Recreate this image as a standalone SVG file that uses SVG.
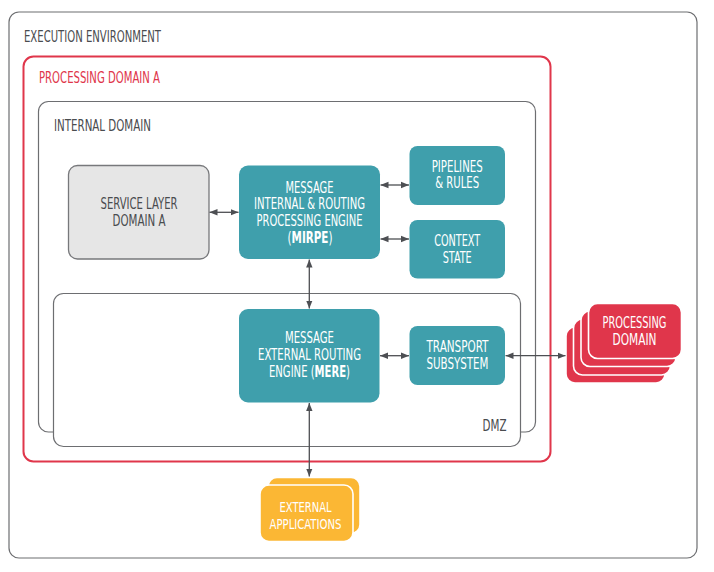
<svg xmlns="http://www.w3.org/2000/svg" width="714" height="572" viewBox="0 0 714 572">
<defs>
<style>
text{font-family:"Liberation Sans Narrow","DejaVu Sans Condensed","Liberation Sans",sans-serif;font-size:15px}
.lbl{fill:#4a4c4f}
.red{fill:#e0364b}
.w{fill:#ffffff;text-anchor:middle}
.d{fill:#4a4c4f;text-anchor:middle}
.b{font-weight:bold}
.sm{font-size:14px}
.frame{fill:#ffffff;stroke:#6d6e71;stroke-width:1.2}
.teal{fill:#3f9fac}
.conn{stroke:#4d4f53;stroke-width:1.3;fill:none;marker-start:url(#ah);marker-end:url(#ah)}
.pd{fill:#e0364b;stroke:#ffffff;stroke-width:1.6}
.ea{fill:#fbb734;stroke:#ffffff;stroke-width:1.6}
</style>
<marker id="ah" viewBox="0 0 8 8" refX="8" refY="4" markerWidth="8" markerHeight="8" markerUnits="userSpaceOnUse" orient="auto-start-reverse">
<path d="M0,0.8 L8,4 L0,7.2 Z" fill="#4d4f53"/>
</marker>
</defs>

<g id="execution-environment">
<rect class="frame" x="9" y="12" width="688" height="546" rx="10"/>
<text class="lbl" x="24" y="41.5" textLength="137" lengthAdjust="spacingAndGlyphs">EXECUTION ENVIRONMENT</text>
</g>

<g id="processing-domain-a">
<rect x="23.5" y="56.5" width="527" height="405" rx="10" fill="#ffffff" stroke="#e0364b" stroke-width="2"/>
<text class="red" x="39" y="82.5" textLength="121" lengthAdjust="spacingAndGlyphs">PROCESSING DOMAIN A</text>
</g>

<g id="internal-domain">
<rect class="frame" x="38.5" y="101.5" width="497" height="330.5" rx="10"/>
<text class="lbl" x="54" y="130.5" textLength="97" lengthAdjust="spacingAndGlyphs">INTERNAL DOMAIN</text>
</g>

<g id="dmz">
<rect class="frame" x="53.5" y="293.5" width="467" height="153" rx="10"/>
<text class="lbl" x="482.5" y="431" textLength="24" lengthAdjust="spacingAndGlyphs">DMZ</text>
</g>

<g id="service-layer">
<rect x="68.5" y="165.5" width="140.5" height="93.5" rx="9" fill="#e6e6e6" stroke="#77787b" stroke-width="1.3"/>
<text class="d" x="139" y="209" textLength="77" lengthAdjust="spacingAndGlyphs">SERVICE LAYER</text>
<text class="d" x="139" y="226" textLength="53" lengthAdjust="spacingAndGlyphs">DOMAIN A</text>
</g>

<g id="mirpe">
<rect class="teal" x="239" y="165.5" width="141" height="93.5" rx="9"/>
<text class="w" x="309.5" y="192.5" textLength="48" lengthAdjust="spacingAndGlyphs">MESSAGE</text>
<text class="w" x="309.5" y="209.3" textLength="111" lengthAdjust="spacingAndGlyphs">INTERNAL &amp; ROUTING</text>
<text class="w" x="309.5" y="226" textLength="106" lengthAdjust="spacingAndGlyphs">PROCESSING ENGINE</text>
<text class="w" transform="translate(310 243) scale(0.77 1)">(<tspan class="b">MIRPE</tspan>)</text>
</g>

<g id="pipelines-rules">
<rect class="teal" x="409.5" y="146" width="95.5" height="59" rx="8"/>
<text class="w" x="457.2" y="171.7" textLength="51" lengthAdjust="spacingAndGlyphs">PIPELINES</text>
<text class="w" x="457.2" y="188" textLength="44" lengthAdjust="spacingAndGlyphs">&amp; RULES</text>
</g>

<g id="context-state">
<rect class="teal" x="409.5" y="220" width="95.5" height="58.5" rx="8"/>
<text class="w" x="457.2" y="246" textLength="46" lengthAdjust="spacingAndGlyphs">CONTEXT</text>
<text class="w" x="457.2" y="262.7" textLength="29" lengthAdjust="spacingAndGlyphs">STATE</text>
</g>

<g id="mere">
<rect class="teal" x="239" y="309" width="140.5" height="93.5" rx="9"/>
<text class="w" x="309.5" y="343.3" textLength="49" lengthAdjust="spacingAndGlyphs">MESSAGE</text>
<text class="w" x="309.5" y="360" textLength="103" lengthAdjust="spacingAndGlyphs">EXTERNAL ROUTING</text>
<text class="w" transform="translate(309.5 377.3) scale(0.745 1)">ENGINE (<tspan class="b">MERE</tspan>)</text>
</g>

<g id="transport-subsystem">
<rect class="teal" x="409.5" y="326" width="95.5" height="59" rx="8"/>
<text class="w" x="457.5" y="352.3" textLength="62" lengthAdjust="spacingAndGlyphs">TRANSPORT</text>
<text class="w" x="457.5" y="369" textLength="62" lengthAdjust="spacingAndGlyphs">SUBSYSTEM</text>
</g>

<g id="processing-domain">
<rect class="pd" x="566" y="327" width="99" height="56" rx="9"/>
<rect class="pd" x="573.5" y="319" width="97" height="56" rx="9"/>
<rect class="pd" x="581" y="311" width="95" height="55.5" rx="9"/>
<rect class="pd" x="588.5" y="303.5" width="93" height="55" rx="9"/>
<text class="w" x="634.5" y="328.3" textLength="64" lengthAdjust="spacingAndGlyphs">PROCESSING</text>
<text class="w" x="634.5" y="345" textLength="44" lengthAdjust="spacingAndGlyphs">DOMAIN</text>
</g>

<g id="external-applications">
<rect class="ea" x="268" y="477.5" width="92" height="56" rx="9"/>
<rect class="ea" x="260" y="485" width="93" height="56.5" rx="9"/>
<text class="w sm" x="305.5" y="512.3" textLength="52" lengthAdjust="spacingAndGlyphs">EXTERNAL</text>
<text class="w sm" x="305.5" y="529" textLength="72" lengthAdjust="spacingAndGlyphs">APPLICATIONS</text>
</g>

<g id="connectors">
<line class="conn" x1="209.5" y1="212.3" x2="238.5" y2="212.3"/>
<line class="conn" x1="380.5" y1="185" x2="409" y2="185"/>
<line class="conn" x1="380.5" y1="239" x2="409" y2="239"/>
<line class="conn" x1="309.3" y1="259.5" x2="309.3" y2="308.5"/>
<line class="conn" x1="380" y1="355.7" x2="409" y2="355.7"/>
<line class="conn" x1="505.5" y1="355.7" x2="565.5" y2="355.7"/>
<line class="conn" x1="309.3" y1="403" x2="309.3" y2="476.5"/>
</g>
</svg>
